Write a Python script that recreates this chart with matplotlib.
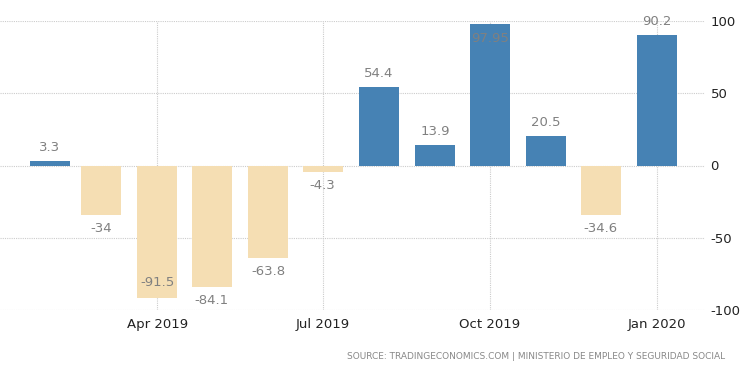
import matplotlib
matplotlib.use("Agg")
import matplotlib.pyplot as plt
import datetime as dt

plt.rcParams["axes.unicode_minus"] = False

months = ["2019-02", "2019-03", "2019-04", "2019-05", "2019-06", "2019-07",
          "2019-08", "2019-09", "2019-10", "2019-11", "2019-12", "2020-01"]
values = [3.3, -34, -91.5, -84.1, -63.8, -4.3, 54.4, 13.9, 97.95, 20.5, -34.6, 90.2]
labels = ["3.3", "-34", "-91.5", "-84.1", "-63.8", "-4.3", "54.4", "13.9", "97.95", "20.5", "-34.6", "90.2"]
xticks = ["2019-04", "2019-07", "2019-10", "2020-01"]
xticklabels = ["Apr 2019", "Jul 2019", "Oct 2019", "Jan 2020"]
yticks = [100, 50, 0, -50, -100]
source = "SOURCE: TRADINGECONOMICS.COM | MINISTERIO DE EMPLEO Y SEGURIDAD SOCIAL"

def to_date(s):
    y, m = s.split("-")
    return dt.datetime(int(y), int(m), 1)

dates = [to_date(m) for m in months]
tick_dates = [to_date(m) for m in xticks]

fig = plt.figure(figsize=(7.5, 3.73), dpi=100)
ax = fig.add_axes([0.0, 1 - 310 / 373, 0.94, 289 / 373])

blue = "#4682b4"
beige = "#f5deb3"
colors = [blue if v >= 0 else beige for v in values]
ax.bar(dates, values, width=22, color=colors, zorder=3)

ax.set_xlim(dt.datetime(2019, 1, 4, 12), dt.datetime(2020, 1, 27, 12))
ax.set_ylim(-100, 100)

ax.set_yticks(yticks)
ax.yaxis.tick_right()
ax.tick_params(axis="y", length=0, labelsize=9.5, labelcolor="#222222", pad=4)
ax.set_xticks(tick_dates)
ax.set_xticklabels(xticklabels)
ax.tick_params(axis="x", length=0, labelsize=9.5, labelcolor="#222222", pad=6)

ax.grid(True, linestyle=(0, (1, 1)), color="#cccccc", linewidth=0.8, zorder=0)
for s in ax.spines.values():
    s.set_visible(False)

for d, v, lab in zip(dates, values, labels):
    if abs(v) > 91:
        off = -6 if v > 0 else 6
        va = "top" if v > 0 else "bottom"
    else:
        off = 5 if v >= 0 else -5
        va = "bottom" if v >= 0 else "top"
    ax.annotate(lab, (d, v), xytext=(0, off), textcoords="offset points",
                ha="center", va=va, fontsize=9.5, color="#808080", zorder=4,
                annotation_clip=False)

fig.text(0.967, 0.045, source, ha="right", va="center", fontsize=6.5,
         color="#888888")

fig.savefig("out.png", dpi=100)
